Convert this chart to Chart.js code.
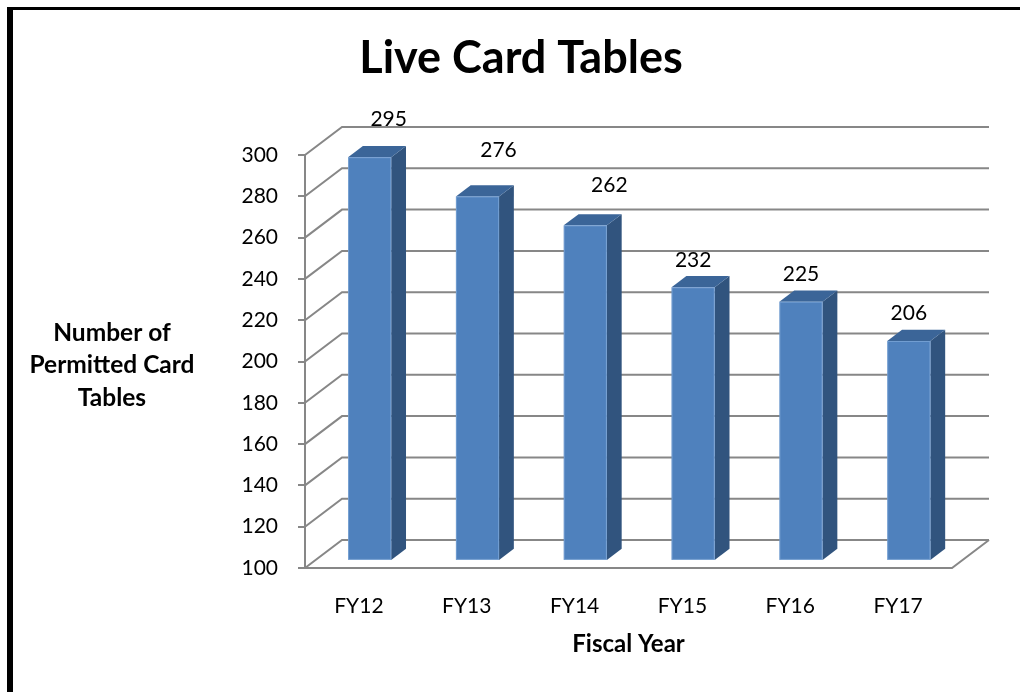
<!DOCTYPE html>
<html>
<head>
<meta charset="utf-8">
<script src="https://cdn.jsdelivr.net/npm/chart.js@4.4.1/dist/chart.umd.min.js"></script>
<style>
  html, body { margin: 0; padding: 0; background: #fff; overflow: hidden; }
  .frame {
    position: absolute; left: 7px; top: 7px; width: 1100px; height: 800px;
    border-left: 6px solid #000; border-top: 3px solid #000;
  }
  #chart { position: absolute; left: 0; top: 0; width: 1020px; height: 692px; }
</style>
</head>
<body>
<div class="frame"></div>
<canvas id="chart" width="1020" height="692"></canvas>
<script>
// datos del grafico
const fiscalYears = ['FY12', 'FY13', 'FY14', 'FY15', 'FY16', 'FY17'];
const cardTables = [295, 276, 262, 232, 225, 206];
const axisMin = 100;
const axisMax = 300;
const axisStep = 20;

// etiquetas de las tres primeras barras estan movidas a mano en el original
const labelNudgeX = [19, 21, 24, 0, 0, 0];
const labelNudgeY = [-10, -19, -13, 0, 0, 0];

// profundidad del "3D"
const DX = 37, DY = -28;
const BAR_FRONT = 0.29, BAR_BACK = 0.69;
const GRID = '#878787';

function poly(ctx, pts, color) {
  ctx.beginPath();
  ctx.moveTo(pts[0][0], pts[0][1]);
  for (let i = 1; i < pts.length; i++) ctx.lineTo(pts[i][0], pts[i][1]);
  ctx.closePath();
  ctx.fillStyle = color;
  ctx.fill();
}

const fake3d = {
  id: 'fake3d',
  beforeDatasetsDraw(chart) {
    const ctx = chart.ctx;
    const y = chart.scales.y;
    const { left, right, bottom } = chart.chartArea;
    ctx.save();
    ctx.strokeStyle = GRID;
    ctx.lineWidth = 2;
    // pared lateral + pared del fondo
    for (let v = axisMin; v <= axisMax; v += axisStep) {
      const py = y.getPixelForValue(v);
      ctx.beginPath();
      ctx.moveTo(left, py);
      ctx.lineTo(left + DX, py + DY);
      ctx.lineTo(right + DX, py + DY);
      ctx.stroke();
    }
    // piso
    ctx.beginPath();
    ctx.moveTo(left, bottom);
    ctx.lineTo(right, bottom);
    ctx.lineTo(right + DX, bottom + DY);
    ctx.stroke();
    ctx.restore();
  },
  afterDatasetsDraw(chart) {
    const ctx = chart.ctx;
    const y = chart.scales.y;
    const meta = chart.getDatasetMeta(0);
    const fx = BAR_FRONT * DX, fy = BAR_FRONT * DY;
    const bx = (BAR_BACK - BAR_FRONT) * DX, by = (BAR_BACK - BAR_FRONT) * DY;
    const basePx = y.getPixelForValue(axisMin);
    ctx.save();
    meta.data.forEach((bar, i) => {
      const half = bar.width / 2;
      const l = bar.x - half + fx, r = bar.x + half + fx;
      const t = bar.y + fy, b = basePx + fy;
      poly(ctx, [[r, t], [r + bx, t + by], [r + bx, b + by], [r, b]], '#31547e');
      poly(ctx, [[l, t], [l + bx, t + by], [r + bx, t + by], [r, t]], '#3b6598');
      ctx.fillStyle = '#4f81bd';
      ctx.fillRect(l, t, r - l, b - t);
      ctx.strokeStyle = 'rgba(150,185,230,0.5)';
      ctx.lineWidth = 1;
      ctx.strokeRect(l + 0.5, t + 0.5, r - l - 1, b - t - 1);

      // etiqueta de valor
      ctx.fillStyle = '#000';
      ctx.font = '21px Lato';
      ctx.textAlign = 'center';
      ctx.textBaseline = 'middle';
      ctx.fillText(String(cardTables[i]), bar.x + fx + labelNudgeX[i], t - 27.5 + labelNudgeY[i]);
    });

    // titulo del eje Y (horizontal, tres lineas)
    ctx.font = 'bold 24.5px Lato';
    ctx.fillStyle = '#000';
    ctx.textAlign = 'center';
    ctx.textBaseline = 'middle';
    ['Number of', 'Permitted Card', 'Tables'].forEach((line, k) => {
      ctx.fillText(line, 112, 333 + k * 32.5);
    });
    ctx.restore();
  }
};

new Chart(document.getElementById('chart'), {
  type: 'bar',
  data: {
    labels: fiscalYears,
    datasets: [{
      data: cardTables,
      backgroundColor: 'rgba(0,0,0,0)',
      borderWidth: 0,
      barPercentage: 0.4,
      categoryPercentage: 1,
    }],
  },
  options: {
    responsive: false,
    animation: false,
    layout: { padding: { left: 90, right: 68, top: 0, bottom: 0 } },
    plugins: {
      legend: { display: false },
      tooltip: { enabled: false },
      title: {
        display: true,
        text: 'Live Card Tables',
        color: '#000',
        font: { family: 'Lato', size: 45, weight: 'bold' },
        padding: { top: 31.5, bottom: 69.5 },
      },
    },
    scales: {
      x: {
        grid: { display: false },
        border: { display: false },
        ticks: { color: '#000', font: { family: 'Lato', size: 21 }, padding: 17.5 },
        title: {
          display: true,
          text: 'Fiscal Year',
          color: '#000',
          font: { family: 'Lato', size: 24, weight: 'bold' },
          padding: { top: 4, bottom: 33.6 },
        },
        afterFit(scale) { scale.height = 124; },
      },
      y: {
        min: axisMin,
        max: axisMax,
        ticks: { stepSize: axisStep, color: '#000', font: { family: 'Lato', size: 21 }, padding: 20 },
        grid: { drawOnChartArea: false, drawTicks: true, tickLength: 7, color: GRID, lineWidth: 2 },
        border: { display: true, color: GRID, width: 2 },
        afterFit(scale) { scale.width = 215; },
      },
    },
  },
  plugins: [fake3d],
});
</script>
</body>
</html>
